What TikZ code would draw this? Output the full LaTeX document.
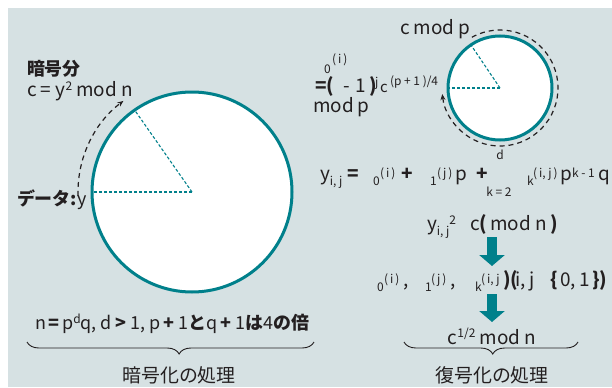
\documentclass[tikz,border=0pt]{standalone}
\usepackage{fontspec}
\setmainfont{Noto Sans CJK JP}
\usetikzlibrary{decorations.pathreplacing,arrows.meta}
\definecolor{bg}{HTML}{D6E1E3}
\definecolor{tealc}{HTML}{00808B}
\definecolor{ink}{HTML}{231F20}
\newcommand\lo[1]{\raisebox{-5bp}{\fontsize{12}{12}\selectfont #1}}
\newcommand\hi[1]{\raisebox{3bp}{\fontsize{12}{12}\selectfont #1}}
\newcommand\up[1]{\raisebox{6bp}{\fontsize{12}{12}\selectfont #1}}
\newcommand\pc[2]{\makebox[#1bp][l]{#2}}
\begin{document}
\begin{tikzpicture}[x=1bp,y=1bp,
  txt/.style={inner sep=0pt,outer sep=0pt,text=ink,font=\fontsize{19}{22}\selectfont},
  small/.style={inner sep=0pt,outer sep=0pt,text=ink,font=\fontsize{12}{14}\selectfont},
  rim/.style={draw=tealc,line width=3bp,fill=white},
  radius line/.style={draw=tealc,line width=1.1bp,dash pattern=on 3bp off 2bp},
  turn/.style={draw=ink,line width=1.2bp,dash pattern=on 5bp off 4bp,-{Stealth[length=6bp,width=5bp]}},
  flow/.style={draw=tealc,line width=10bp,-{Triangle[length=11bp,width=25bp]}},
  bracestyle/.style={draw=ink,line width=0.9bp,decorate,decoration={brace,mirror,amplitude=12bp}}]
\useasboundingbox (0,0) rectangle (612,387);
\fill[white] (0,0) rectangle (612,387);
\fill[bg] (8,0) rectangle (612,379);
% big circle
\coordinate (bc) at (192,195);
\draw[rim] (bc) circle[radius=100];
\draw[radius line] (bc) -- ++(180:100);
\draw[radius line] (bc) -- ++(125:100);
\draw[turn] (bc) ++(182:114) arc[start angle=182,end angle=127,radius=114];
% small circle
\coordinate (sc) at (500,299);
\draw[rim] (sc) circle[radius=52];
\draw[radius line] (sc) -- ++(180:52);
\draw[radius line] (sc) -- ++(124:52);
\draw[turn] (sc) ++(119:58) arc[start angle=119,end angle=-174,radius=58];
% left labels
\node[txt,anchor=west,font=\fontsize{18}{20}\selectfont\bfseries] (ango) at (27,318) {暗号分};
\node[txt,anchor=base west] (cform) at (27,291) {c = y\up{2} mod n};
\node[txt,anchor=west,font=\fontsize{18}{20}\selectfont] (data) at (17,187) {\textbf{データ:}y};
% right labels
\node[txt,anchor=base west] (cmodp) at (400,353) {c mod p};
\node[txt,anchor=base west] (la) at (324,319) {\pc{8}{\lo{0}}\raisebox{5bp}{\fontsize{12}{12}\selectfont (\,i\,)}};
\node[txt,anchor=base west] (lb) at (315,295) {\pc{12}{\textbf{=}}\pc{16}{\textbf{(}}\pc{13}{-}\pc{13}{1}\pc{6}{\textbf{)}}\pc{5}{\raisebox{6bp}{\fontsize{12}{12}\selectfont j}}\pc{10}{\fontsize{15}{15}\selectfont c}\raisebox{7bp}{\fontsize{12}{12}\selectfont (p + 1 )/4}};
\node[txt,anchor=base west] (lc) at (313,275) {mod p};
\node[txt,anchor=base west] (yij) at (320,207) {\pc{27}{y\lo{i, j}}\pc{26}{\textbf{=}}\pc{7}{\lo{0}}\pc{21}{\hi{(\,i\,)}}\pc{29}{\textbf{+}}\pc{7}{\lo{1}}\pc{18}{\hi{(\,j\,)}}\pc{21}{p}\pc{51}{\textbf{+}}\pc{6}{\lo{k}}\pc{27}{\hi{(\,i, j\,)}}\pc{12}{p}\pc{26}{\hi{k - 1}}q};
\node[small] (sumtop) at (500,232) {d};
\node[small] (sumbot) at (499,195) {k = 2};
\node[txt,anchor=base west] (ysq) at (427,157) {y\lo{i, j}\up{2}\hspace{14bp}c\textbf{(}\,mod n\,\textbf{)}};
\node[txt,anchor=base west] (alph) at (377,101) {\pc{7}{\lo{0}}\pc{19}{\hi{(\,i\,)}}\pc{22}{,}\pc{6}{\lo{1}}\pc{19}{\hi{(\,j\,)}}\pc{25}{,}\pc{6}{\lo{k}}\pc{22}{\hi{(\,i, j}}\pc{12}{\textbf{)(}}\pc{35}{i, j}\pc{10}{\textbf{\{}}\pc{32}{0, 1}\textbf{\})}};
\node[txt,anchor=base] (root) at (492,43) {c\raisebox{7bp}{\fontsize{12}{12}\selectfont 1/2} mod n};
% arrows
\coordinate (a1s) at (492,150);
\coordinate (a1e) at (492,121);
\draw[flow] (a1s) -- (a1e);
\coordinate (a2s) at (492,93);
\coordinate (a2e) at (492,65);
\draw[flow] (a2s) -- (a2e);
% bottom left condition
\node[txt,anchor=base west,font=\fontsize{18}{20}\selectfont] (cond) at (35,58) {n\hspace{0.15em}\textbf{=}\hspace{0.15em}p\up{d}q, d\hspace{0.2em}\textbf{>}\hspace{0.2em}1, p\hspace{0.2em}\textbf{+}\hspace{0.2em}1\textbf{と}q\hspace{0.2em}\textbf{+}\hspace{0.2em}1\textbf{は}4\textbf{の倍}};
% braces
\coordinate (b1l) at (27,45);
\coordinate (b1r) at (314,45);
\draw[bracestyle,decoration={aspect=0.53}] (b1l) -- (b1r);
\coordinate (b2l) at (404,45);
\coordinate (b2r) at (578,45);
\draw[bracestyle,decoration={aspect=0.51}] (b2l) -- (b2r);
\node[txt] (enc) at (179,12) {暗号化の処理};
\node[txt] (dec) at (492,12) {復号化の処理};
\end{tikzpicture}
\end{document}
